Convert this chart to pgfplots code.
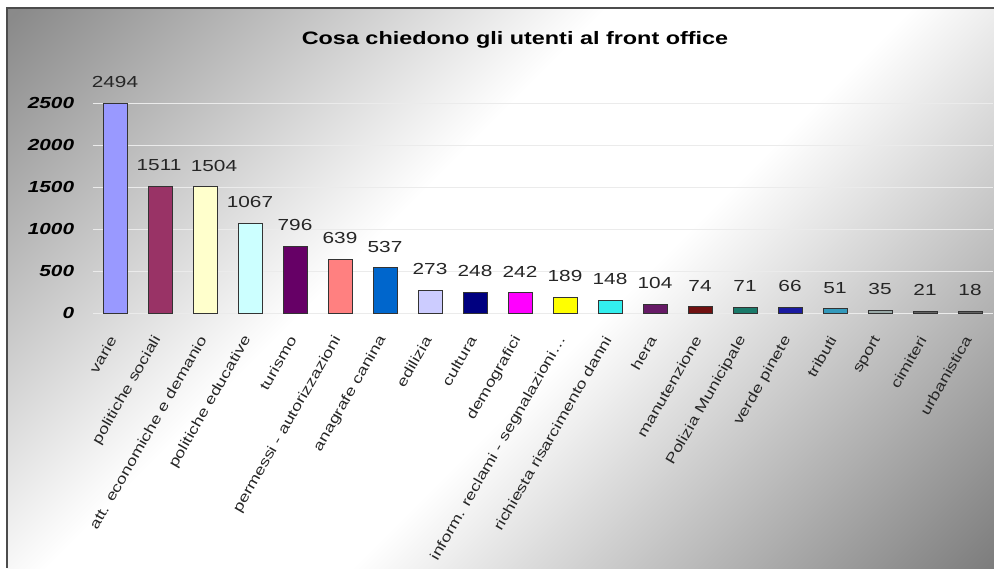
\documentclass[border=0pt]{standalone}
\usepackage{fontspec}
\setmainfont{Liberation Sans}[FakeStretch=1.3]
\usepackage{pgfplots}
\pgfplotsset{compat=1.18}
\definecolor{c1}{HTML}{9999FF}
\definecolor{c2}{HTML}{993366}
\definecolor{c3}{HTML}{FFFFCC}
\definecolor{c4}{HTML}{CCFFFF}
\definecolor{c5}{HTML}{660066}
\definecolor{c6}{HTML}{FF8080}
\definecolor{c7}{HTML}{0066CC}
\definecolor{c8}{HTML}{CCCCFF}
\definecolor{c9}{HTML}{000080}
\definecolor{c10}{HTML}{FF00FF}
\definecolor{c11}{HTML}{FFFF00}
\definecolor{c12}{HTML}{33EEEE}
\definecolor{c13}{HTML}{661A66}
\definecolor{c14}{HTML}{701010}
\definecolor{c15}{HTML}{1A7A6A}
\definecolor{c16}{HTML}{1A1AA0}
\definecolor{c17}{HTML}{3399BB}
\definecolor{c18}{HTML}{9AAAA8}
\definecolor{c19}{HTML}{606060}
\definecolor{c20}{HTML}{606060}
\pgfdeclarehorizontalshading{bgsh}{100bp}{color(0bp)=(black!50); color(15bp)=(black!46); color(42bp)=(white); color(56bp)=(white); color(86bp)=(black!52); color(100bp)=(black!52)}
\begin{document}
\begin{tikzpicture}
\path[use as bounding box] (0,0) rectangle (497pt,-284pt);
\fill[white] (0,0) rectangle (497pt,-284pt);
\shade[shading=bgsh, shading angle=-45] (3.5pt,-4pt) rectangle (497pt,-284pt);
\draw[black!70, line width=0.75pt] (3.5pt,-284pt) -- (3.5pt,-4pt) -- (497pt,-4pt);
\node[font=\fontsize{9}{11}\selectfont\bfseries] at (257.5pt,-20pt) {Cosa chiedono gli utenti al front office};
\begin{axis}[
 at={(46.25pt,-156.5pt)}, anchor=south west,
 scale only axis, width=450pt, height=105pt,
 ymin=0, ymax=2500, xmin=-0.5, xmax=19.5,
 ybar, bar width=12pt, bar shift=0pt,
 axis line style={draw=none},
 ytick={0,500,1000,1500,2000,2500},
 ymajorgrids, major grid style={black!8, line width=0.4pt},
 xtick={0,1,2,3,4,5,6,7,8,9,10,11,12,13,14,15,16,17,18,19},
 xticklabels={varie,politiche sociali,att. economiche e demanio,politiche educative,turismo,permessi - autorizzazioni,anagrafe canina,edilizia,cultura,demografici,{inform. reclami - segnalazioni…},richiesta risarcimento danni,hera,manutenzione,Polizia Municipale,verde pinete,tributi,sport,cimiteri,urbanistica},
 major tick length=0pt,
 xticklabel style={yshift=-12pt, xshift=-1pt, rotate=60, anchor=east, inner sep=0pt, font=\fontsize{7}{8}\selectfont, text=black!85},
 yticklabel style={font=\fontsize{8}{9}\selectfont\bfseries\itshape, inner sep=0pt, anchor=east, xshift=-9pt},
 nodes near coords,
 every node near coord/.append style={font=\fontsize{8}{9}\selectfont, anchor=south, inner sep=0pt, yshift=7.5pt, text=black!85},
 clip=false,
 scaled y ticks=false,
 /pgf/number format/1000 sep={},
 /pgf/number format/assume math mode=true,
 every axis plot/.append style={draw=black!80, line width=0.5pt},
]
\addplot[fill=c1] coordinates {(0,2494)};
\addplot[fill=c2, every node near coord/.append style={xshift=-0.5pt}] coordinates {(1,1511)};
\addplot[fill=c3, every node near coord/.append style={xshift=4.5pt}] coordinates {(2,1504)};
\addplot[fill=c4] coordinates {(3,1067)};
\addplot[fill=c5] coordinates {(4,796)};
\addplot[fill=c6] coordinates {(5,639)};
\addplot[fill=c7] coordinates {(6,537)};
\addplot[fill=c8] coordinates {(7,273)};
\addplot[fill=c9] coordinates {(8,248)};
\addplot[fill=c10] coordinates {(9,242)};
\addplot[fill=c11] coordinates {(10,189)};
\addplot[fill=c12] coordinates {(11,148)};
\addplot[fill=c13] coordinates {(12,104)};
\addplot[fill=c14] coordinates {(13,74)};
\addplot[fill=c15] coordinates {(14,71)};
\addplot[fill=c16] coordinates {(15,66)};
\addplot[fill=c17] coordinates {(16,51)};
\addplot[fill=c18] coordinates {(17,35)};
\addplot[fill=c19] coordinates {(18,21)};
\addplot[fill=c20] coordinates {(19,18)};
\end{axis}
\end{tikzpicture}
\end{document}
